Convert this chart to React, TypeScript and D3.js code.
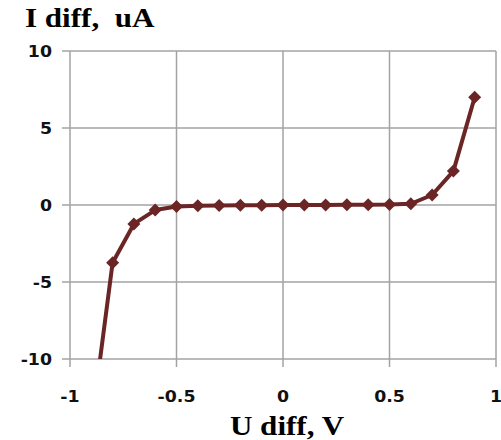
import { scaleLinear, line } from 'd3';

// measured U (V) vs I (uA); the first point runs off the bottom and is clipped
const uValues = [-0.9, -0.8, -0.7, -0.6, -0.5, -0.4, -0.3, -0.2, -0.1, 0, 0.1, 0.2, 0.3, 0.4, 0.5, 0.6, 0.7, 0.8, 0.9];
const iValues = [-14.4, -3.75, -1.23, -0.33, -0.1, -0.05, -0.03, -0.02, -0.01, 0, 0, 0, 0.01, 0.02, 0.03, 0.08, 0.65, 2.2, 7.0];
const xTicks = [-1, -0.5, 0, 0.5, 1];
const yTicks = [10, 5, 0, -5, -10];

const W = 501;
const H = 440;
const left = 70;
const right = 496;
const top = 51;
const bottom = 359;

const gridColor = '#a3a3a3';
const lineColor = '#6b2525';
const tickFont = 'DejaVu Sans, Verdana, sans-serif';
const titleFont = 'Liberation Serif, Times New Roman, serif';

export default function App() {
  const x = scaleLinear().domain([-1, 1]).range([left, right]);
  const y = scaleLinear().domain([-10, 10]).range([bottom, top]);

  const pts = uValues.map((u, i) => ({ u, v: iValues[i] }));
  const path = line<{ u: number; v: number }>()
    .x((d) => x(d.u))
    .y((d) => y(d.v))(pts);

  const diamond = (cx: number, cy: number, r = 6.5) =>
    `M${cx},${cy - r}L${cx + r},${cy}L${cx},${cy + r}L${cx - r},${cy}Z`;

  return (
    <svg
      width={W}
      height={H}
      style={{ position: 'absolute', left: 0, top: 0, background: '#fff' }}
    >
      <defs>
        <clipPath id="plot">
          <rect x={left} y={top} width={right - left} height={bottom - top} />
        </clipPath>
      </defs>

      {/* grid + ticks */}
      {xTicks.map((t) => (
        <line
          key={'gx' + t}
          x1={x(t)}
          x2={x(t)}
          y1={top}
          y2={bottom + 8}
          stroke={gridColor}
          strokeWidth={1.5}
        />
      ))}
      {yTicks.map((t) => (
        <line
          key={'gy' + t}
          x1={left - 8}
          x2={right}
          y1={y(t)}
          y2={y(t)}
          stroke={gridColor}
          strokeWidth={1.5}
        />
      ))}

      {/* tick labels */}
      {yTicks.map((t) => (
        <text
          key={'ly' + t}
          transform={`translate(52,${y(t) + 5.5}) scale(1.12,1)`}
          textAnchor="end"
          fontFamily={tickFont}
          fontWeight="bold"
          fontSize={15.5}
          fill="#111"
        >
          {String(t)}
        </text>
      ))}
      {xTicks.map((t) => (
        <text
          key={'lx' + t}
          transform={`translate(${x(t)},402) scale(1.12,1)`}
          textAnchor="middle"
          fontFamily={tickFont}
          fontWeight="bold"
          fontSize={15.5}
          fill="#111"
        >
          {String(t)}
        </text>
      ))}

      {/* series */}
      <g clipPath="url(#plot)">
        <path d={path ?? ''} fill="none" stroke={lineColor} strokeWidth={4} strokeLinejoin="round" />
        {pts.map((d) => (
          <path key={'m' + d.u} d={diamond(x(d.u), y(d.v))} fill={lineColor} />
        ))}
      </g>

      {/* titles */}
      <text
        transform="translate(25,27) scale(1.15,1)"
        fontFamily={titleFont}
        fontWeight="bold"
        fontSize={27}
        fill="#000"
        style={{ whiteSpace: 'pre' }}
      >
        {'I diff,  uA'}
      </text>
      <text
        transform="translate(287,435) scale(1.15,1)"
        textAnchor="middle"
        fontFamily={titleFont}
        fontWeight="bold"
        fontSize={27}
        fill="#000"
      >
        U diff, V
      </text>
    </svg>
  );
}
